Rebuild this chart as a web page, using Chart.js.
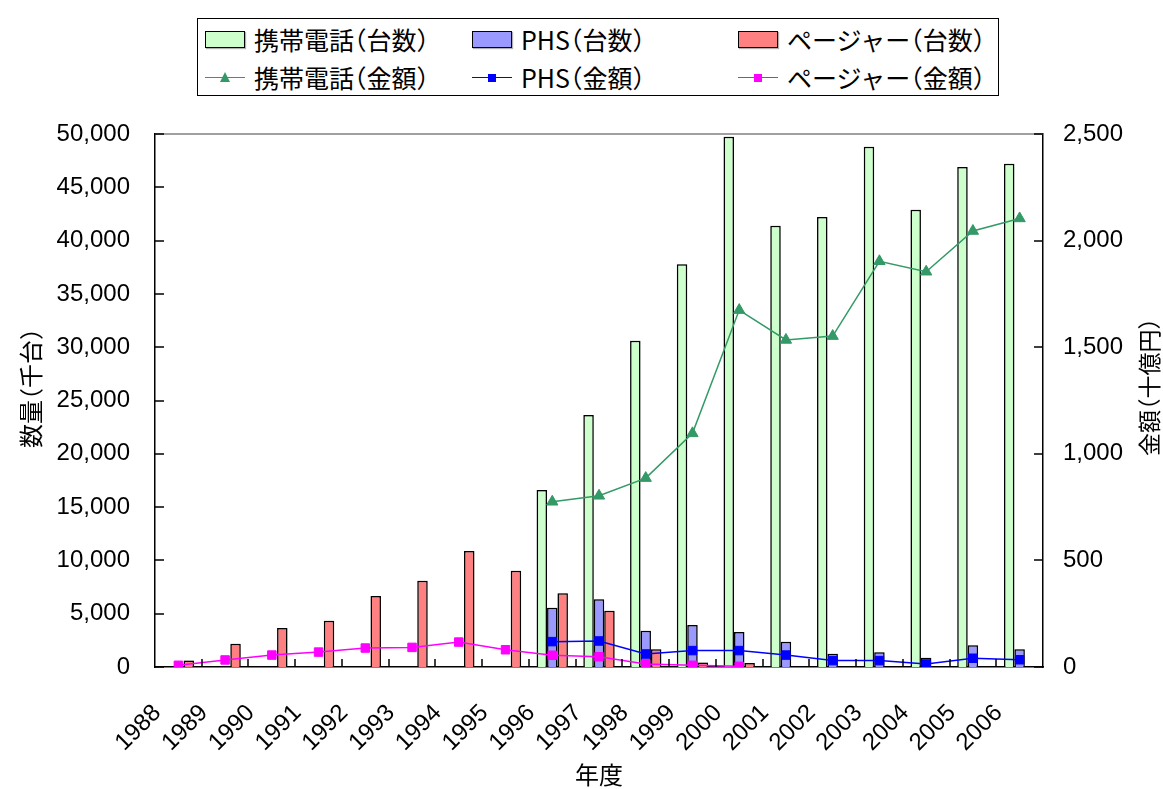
<!DOCTYPE html>
<html>
<head>
<meta charset="utf-8">
<script src="https://cdn.jsdelivr.net/npm/chart.js@4/dist/chart.umd.min.js"></script>
<style>
  html, body { margin: 0; padding: 0; background: #fff; }
  #wrap { position: relative; width: 1163px; height: 789px; overflow: hidden; }
  #legend { position: absolute; left: 197px; top: 18px; width: 802px; height: 78px;
            border: 1px solid #000; box-sizing: border-box; background: #fff; }
  .item { position: absolute; height: 30px; display: flex; align-items: center; white-space: nowrap;
          font: 25px "Noto Sans CJK JP", sans-serif; font-feature-settings: "halt"; color: #000; }
  .item span.txt { margin-left: 9px; }
  .box { width: 40px; height: 17px; border: 1.5px solid #000; box-sizing: border-box; box-shadow: 1px 1px 1px #b0b0b0; }
  .lsw { position: relative; width: 40px; height: 17px; }
  .lsw .ln { position: absolute; left: 0; right: 0; top: 8px; height: 0; border-top: 1.5px solid; }
  .lsw .sq { position: absolute; left: 16px; top: 5px; width: 8px; height: 8px; }
  .lsw .tri { position: absolute; left: 15px; top: 3px; width: 0; height: 0;
              border-left: 5px solid transparent; border-right: 5px solid transparent; border-bottom: 10px solid; }
  .vtitle { position: absolute; width: 200px; height: 30px; line-height: 30px; text-align: center;
            font: 24px "Noto Sans CJK JP", sans-serif; font-feature-settings: "halt"; color: #000;
            transform: rotate(-90deg); white-space: nowrap; }
</style>
</head>
<body>
<div id="wrap">
  <canvas id="chart" width="1163" height="789"></canvas>
  <div id="legend"></div>
  <div class="vtitle" style="left:-73px; top:373px;">数量（千台）</div>
  <div class="vtitle" style="left:1046px; top:372px; font-size:23px;">金額（十億円）</div>
</div>
<script>
// Data
const years = ['1988', '1989', '1990', '1991', '1992', '1993', '1994', '1995', '1996', '1997',
               '1998', '1999', '2000', '2001', '2002', '2003', '2004', '2005', '2006'];

// units, thousands (left axis)
const phoneUnits = [null, null, null, null, null, null, null, null,
                    16600, 23640, 30610, 37780, 49750, 41400, 42210, 48810, 42900, 46900, 47210];
const phsUnits = [null, null, null, null, null, null, null, null,
                  5560, 6350, 3410, 3940, 3280, 2380, 1250, 1380, 870, 2040, 1660];
const pagerUnits = [600, 2190, 3660, 4350, 6660, 8100, 10880, 9030, 6910, 5280, 1660, 420, 380,
                    null, null, null, null, null, null];

// value, billion yen (right axis)
const phoneValue = [null, null, null, null, null, null, null, null,
                    775, 803, 886, 1096, 1674, 1534, 1552, 1903, 1854, 2045, 2104];
const phsValue = [null, null, null, null, null, null, null, null,
                  119, 122, 61, 77, 77, 56, 30, 30, 14, 41, 34];
const pagerValue = [8, 33, 56, 70, 89, 92, 117, 81, 55, 48, 14, 8, 3,
                    null, null, null, null, null, null];

const leftTicks = [0, 5000, 10000, 15000, 20000, 25000, 30000, 35000, 40000, 45000, 50000];
const rightTicks = [0, 500, 1000, 1500, 2000, 2500];

const numFont = { family: '"Liberation Sans", Arial, sans-serif', size: 24 };

// Draws the inward tick marks and the grey top edge of the plot area
const axisMarks = {
    id: 'axisMarks',
    beforeDatasetDraw(chart, args) {
        // soft grey shadow round the bars, like the original
        if (args.meta.type === 'bar') {
            chart.ctx.save();
            chart.ctx.shadowColor = 'rgba(0,0,0,0.35)';
            chart.ctx.shadowBlur = 2;
            chart.ctx.shadowOffsetX = 0;
            chart.ctx.shadowOffsetY = 0;
        }
    },
    afterDatasetDraw(chart, args) {
        if (args.meta.type === 'bar') chart.ctx.restore();
    },
    afterDraw(chart) {
        const { ctx, chartArea: a, scales } = chart;
        ctx.save();
        ctx.strokeStyle = '#808080';
        ctx.lineWidth = 1.5;
        ctx.beginPath();
        ctx.moveTo(a.left, a.top);
        ctx.lineTo(a.right, a.top);
        ctx.stroke();

        ctx.strokeStyle = '#000';
        ctx.lineWidth = 1.5;
        ctx.beginPath();
        scales.y.ticks.forEach((t, i) => {
            const py = Math.round(scales.y.getPixelForTick(i));
            ctx.moveTo(a.left, py);
            ctx.lineTo(a.left + 9, py);
        });
        scales.y1.ticks.forEach((t, i) => {
            const py = Math.round(scales.y1.getPixelForTick(i));
            ctx.moveTo(a.right, py);
            ctx.lineTo(a.right - 9, py);
        });
        const xs = scales.x;
        const step = xs.getPixelForTick(1) - xs.getPixelForTick(0);
        for (let i = 1; i < xs.ticks.length; i++) {
            const px = Math.round(xs.getPixelForTick(i) - step / 2);
            ctx.moveTo(px, a.bottom);
            ctx.lineTo(px, a.bottom - 8);
        }
        ctx.stroke();
        ctx.restore();
    }
};

function barSet(label, data, color) {
    return {
        type: 'bar',
        label: label,
        data: data,
        backgroundColor: color,
        borderColor: '#000',
        borderWidth: 1.5,
        yAxisID: 'y',
        order: 1,
        categoryPercentage: 0.67,
        barPercentage: 1.0
    };
}

function lineSet(label, data, color, marker) {
    return {
        type: 'line',
        label: label,
        data: data,
        borderColor: color,
        backgroundColor: color,
        borderWidth: 1.5,
        pointStyle: marker,
        pointRadius: marker === 'triangle' ? 6.5 : 6,
        pointBorderWidth: 1,
        yAxisID: 'y1',
        order: 0,
        spanGaps: false
    };
}

const chart = new Chart(document.getElementById('chart'), {
    data: {
        labels: years,
        datasets: [
            barSet('携帯電話（台数）', phoneUnits, '#CCFFCC'),
            barSet('PHS（台数）', phsUnits, '#9999FF'),
            barSet('ページャー（台数）', pagerUnits, '#FF8080'),
            lineSet('携帯電話（金額）', phoneValue, '#339966', 'triangle'),
            lineSet('PHS（金額）', phsValue, '#0000FF', 'rect'),
            lineSet('ページャー（金額）', pagerValue, '#FF00FF', 'rect')
        ]
    },
    options: {
        responsive: false,
        animation: false,
        devicePixelRatio: 1,
        layout: { padding: { top: 134, left: 0, right: 0, bottom: 0 } },
        plugins: {
            legend: { display: false },
            tooltip: { enabled: false }
        },
        scales: {
            x: {
                type: 'category',
                offset: true,
                grid: { display: false, drawTicks: false },
                border: { display: true, color: '#000', width: 1.5 },
                ticks: {
                    autoSkip: false,
                    maxRotation: 45,
                    minRotation: 45,
                    padding: 32,
                    labelOffset: -21,
                    color: '#000',
                    font: numFont
                },
                title: {
                    display: true,
                    text: '年度',
                    color: '#000',
                    font: { family: '"Noto Sans CJK JP", sans-serif', size: 24 },
                    padding: { top: 0, bottom: 0 }
                },
                afterFit(scale) { scale.height = 122; }
            },
            y: {
                position: 'left',
                min: 0,
                max: 50000,
                grid: { display: false, drawTicks: false },
                border: { display: true, color: '#000', width: 1.5 },
                afterBuildTicks(scale) { scale.ticks = leftTicks.map(v => ({ value: v })); },
                ticks: {
                    padding: 25,
                    color: '#000',
                    font: numFont,
                    callback: v => v.toLocaleString('en-US')
                },
                afterFit(scale) { scale.width = 155; }
            },
            y1: {
                position: 'right',
                min: 0,
                max: 2500,
                grid: { display: false, drawTicks: false },
                border: { display: true, color: '#000', width: 1.5 },
                afterBuildTicks(scale) { scale.ticks = rightTicks.map(v => ({ value: v })); },
                ticks: {
                    padding: 20,
                    color: '#000',
                    font: numFont,
                    callback: v => v.toLocaleString('en-US')
                },
                afterFit(scale) { scale.width = 120; }
            }
        }
    },
    plugins: [axisMarks]
});

// HTML legend built from the chart's datasets, 3 columns x 2 rows
const legendEl = document.getElementById('legend');
const colX = [7, 274, 540];
const rowY = [5, 43];
chart.data.datasets.forEach((ds, i) => {
    const item = document.createElement('div');
    item.className = 'item';
    item.style.left = colX[i % 3] + 'px';
    item.style.top = rowY[Math.floor(i / 3)] + 'px';
    let sw;
    if (ds.type === 'bar') {
        sw = document.createElement('div');
        sw.className = 'box';
        sw.style.background = ds.backgroundColor;
    } else {
        sw = document.createElement('div');
        sw.className = 'lsw';
        const ln = document.createElement('div');
        ln.className = 'ln';
        ln.style.borderTopColor = ds.borderColor;
        sw.appendChild(ln);
        const mk = document.createElement('div');
        if (ds.pointStyle === 'triangle') {
            mk.className = 'tri';
            mk.style.borderBottomColor = ds.borderColor;
        } else {
            mk.className = 'sq';
            mk.style.background = ds.borderColor;
        }
        sw.appendChild(mk);
    }
    item.appendChild(sw);
    const txt = document.createElement('span');
    txt.className = 'txt';
    txt.textContent = ds.label;
    item.appendChild(txt);
    legendEl.appendChild(item);
});
</script>
</body>
</html>
